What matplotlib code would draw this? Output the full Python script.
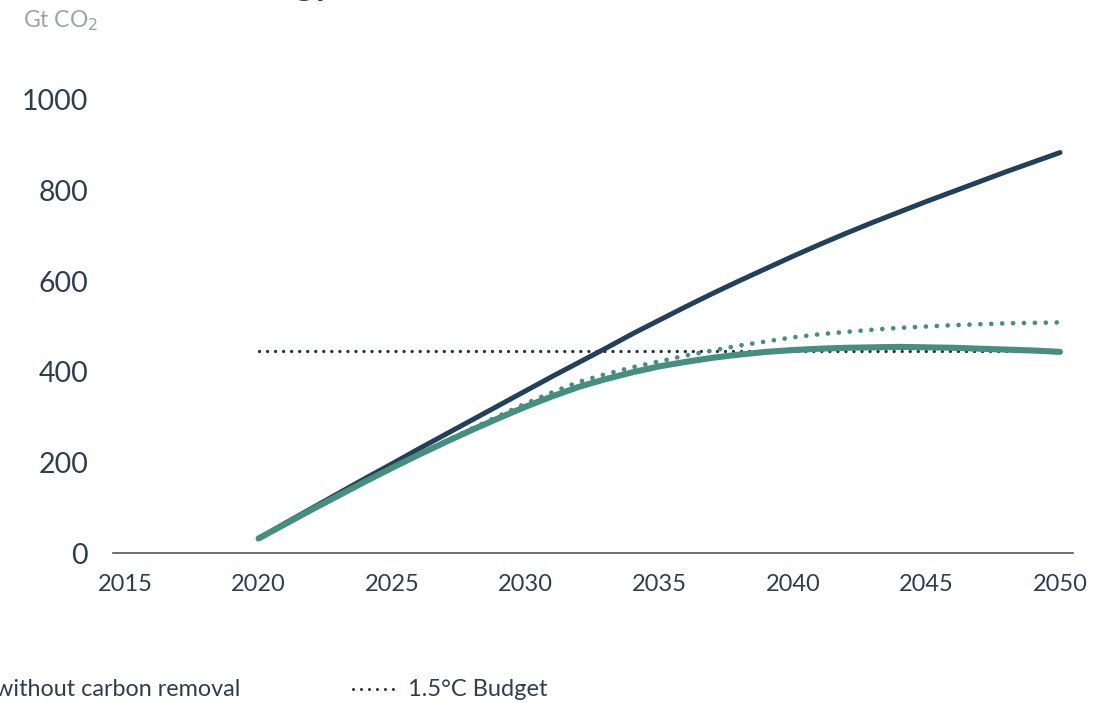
import matplotlib
matplotlib.use("Agg")
import matplotlib.pyplot as plt
from matplotlib.lines import Line2D

plt.rcParams['font.family'] = ['Lato', 'DejaVu Sans']

years = list(range(2020, 2051))

# Cumulative emissions, Gt CO2
no_removal = [32, 66, 99, 132, 165, 197, 230, 262, 294, 326, 358, 390, 421, 452, 484,
              514, 544, 573, 601, 628, 655, 681, 706, 730, 753, 776, 798, 820, 842, 863, 884]
with_removal = [32, 64, 96, 127, 158, 188, 217, 245, 272, 298, 323, 346, 367, 384, 399,
                412, 422, 431, 438, 444, 448, 451, 453, 454, 455, 454, 453, 451, 449, 447, 444]
gross_emissions = [32, 64, 96, 127, 158, 188, 217, 247, 275, 303, 330, 355, 378, 395, 410,
                   423, 436, 447, 458, 467, 476, 483, 488, 493, 497, 500, 503, 505, 507, 508, 509]
budget = [445] * len(years)

xticks = [2015, 2020, 2025, 2030, 2035, 2040, 2045, 2050]
yticks = [0, 200, 400, 600, 800, 1000]

navy = '#22405a'
teal = '#468e80'
text_col = '#2d3e50'
grey = '#9aa3aa'

W, H = 1094, 703
fig = plt.figure(figsize=(W / 100, H / 100), dpi=100)
ax = fig.add_axes([113 / W, (H - 553) / H, (1073 - 113) / W, (553 - 100) / H])

ax.plot(years, budget, color='#22333f', lw=2.4, linestyle=(0, (0.01, 2.4)),
        dash_capstyle='round', zorder=2)
ax.plot(years, no_removal, color=navy, lw=3.6, solid_capstyle='round', zorder=3)
ax.plot(years, gross_emissions, color=teal, lw=3.4, linestyle=(0, (0.01, 2.3)),
        dash_capstyle='round', zorder=4)
ax.plot(years, with_removal, color=teal, lw=4.4, solid_capstyle='round', zorder=5)

ax.set_xlim(2015 - 12 / 26.72, 2050 + 13 / 26.72)
ax.set_ylim(0, 1000)
ax.set_xticks(xticks)
ax.set_yticks(yticks)
ax.set_xticklabels([str(v) for v in xticks], fontsize=17, color=text_col)
ax.set_yticklabels([str(v) for v in yticks], fontsize=20.5, color=text_col)
ax.tick_params(axis='both', length=0)
ax.tick_params(axis='x', pad=15)
ax.tick_params(axis='y', pad=18)
for s in ['top', 'right', 'left']:
    ax.spines[s].set_visible(False)
ax.spines['bottom'].set_color('#4a5866')
ax.spines['bottom'].set_linewidth(1.2)

# unit label
fig.text(23 / W, 1 - 21 / H, 'Gt CO$_2$', fontsize=16.5, color=grey, va='center', ha='left')

# title (runs above the top edge)
fig.text(333 / W, 1 + 5 / H, 'Energy', fontsize=26, fontweight='bold', color=text_col,
         ha='right', va='baseline')

# legend row
fig.text(-5 / W, 1 - 690 / H, 'without carbon removal', fontsize=16.8, color=text_col,
         ha='left', va='center')
fig.add_artist(Line2D([353 / W, 398 / W], [1 - 689 / H, 1 - 689 / H], transform=fig.transFigure,
                      color='#22333f', lw=2.2, linestyle=(0, (0.01, 2.6)), dash_capstyle='round'))
fig.text(408 / W, 1 - 690 / H, '1.5°C Budget', fontsize=17, color=text_col,
         ha='left', va='center')

fig.savefig('out.png', dpi=100, facecolor='white')
